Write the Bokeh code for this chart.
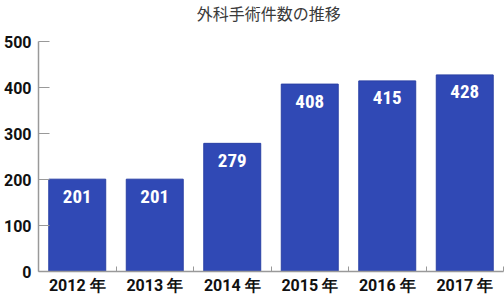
from bokeh.plotting import figure
from bokeh.models import Range1d, FixedTicker, ColumnDataSource, Label
from bokeh.core.properties import value
from bokeh.embed import file_html
from bokeh.resources import INLINE

title_text = "外科手術件数の推移"
years = ["2012 年", "2013 年", "2014 年", "2015 年", "2016 年", "2017 年"]
counts = [201, 201, 279, 408, 415, 428]
y_ticks = [0, 100, 200, 300, 400, 500]
y_max = 500

BAR = "#3049B5"
AXIS = "#999999"

idx = [i + 0.5 for i in range(len(years))]
src = ColumnDataSource(dict(x=idx, y=counts, lab=[str(c) for c in counts]))

# frame reaches the top of the canvas; extra headroom above 500 holds the title
p = figure(width=504, height=297, output_backend="svg", toolbar_location=None,
           x_range=Range1d(0, len(years)), y_range=Range1d(0, 590),
           min_border_left=37, min_border_right=1, min_border_top=0, min_border_bottom=25)

p.outline_line_color = None
p.xgrid.grid_line_color = None
p.ygrid.grid_line_color = None
p.background_fill_color = "white"
p.border_fill_color = "white"

p.vbar(x="x", top="y", width=0.735, bottom=0, source=src,
       fill_color=BAR, line_color="#2A40A5", line_width=1)
p.text(x="x", y="y", text="lab", source=src, text_color="white",
       text_font=value("Roboto Condensed, Noto Sans Condensed, DejaVu Sans Condensed"),
       text_font_style="bold",
       text_font_size="19px", text_align="center", text_baseline="middle",
       y_offset=17)

title = Label(x=len(years) / 2 - 0.03, y=259, x_units="data", y_units="screen",
              text=title_text, text_align="center", text_baseline="middle",
              text_font="Noto Sans CJK JP", text_font_size="16px",
              text_font_style="normal", text_color="#3a3a3a")
p.add_layout(title)

xa = p.xaxis[0]
xa.ticker = FixedTicker(ticks=idx, minor_ticks=list(range(1, len(years) + 1)))
xa.major_label_overrides = {v: years[i] for i, v in enumerate(idx)}
xa.major_tick_in = 0
xa.major_tick_out = 0
xa.minor_tick_in = 5
xa.minor_tick_out = 0
xa.minor_tick_line_color = AXIS
xa.axis_line_color = AXIS
xa.axis_line_width = 1.5
xa.major_label_text_font = "Roboto"
xa.major_label_text_font_style = "bold"
xa.major_label_text_font_size = "16px"
xa.major_label_text_color = "#111111"
xa.major_label_standoff = 4

ya = p.yaxis[0]
ya.bounds = (0, y_max)
ya.ticker = FixedTicker(ticks=y_ticks)
ya.major_tick_in = 11
ya.major_tick_out = 0
ya.minor_tick_in = 0
ya.minor_tick_out = 0
ya.major_tick_line_color = AXIS
ya.axis_line_color = AXIS
ya.axis_line_width = 1.5
ya.major_label_text_font = "Roboto"
ya.major_label_text_font_style = "bold"
ya.major_label_text_font_size = "16px"
ya.major_label_text_color = "#111111"
ya.major_label_standoff = 7

open("out.html", "w").write(file_html(p, INLINE))
